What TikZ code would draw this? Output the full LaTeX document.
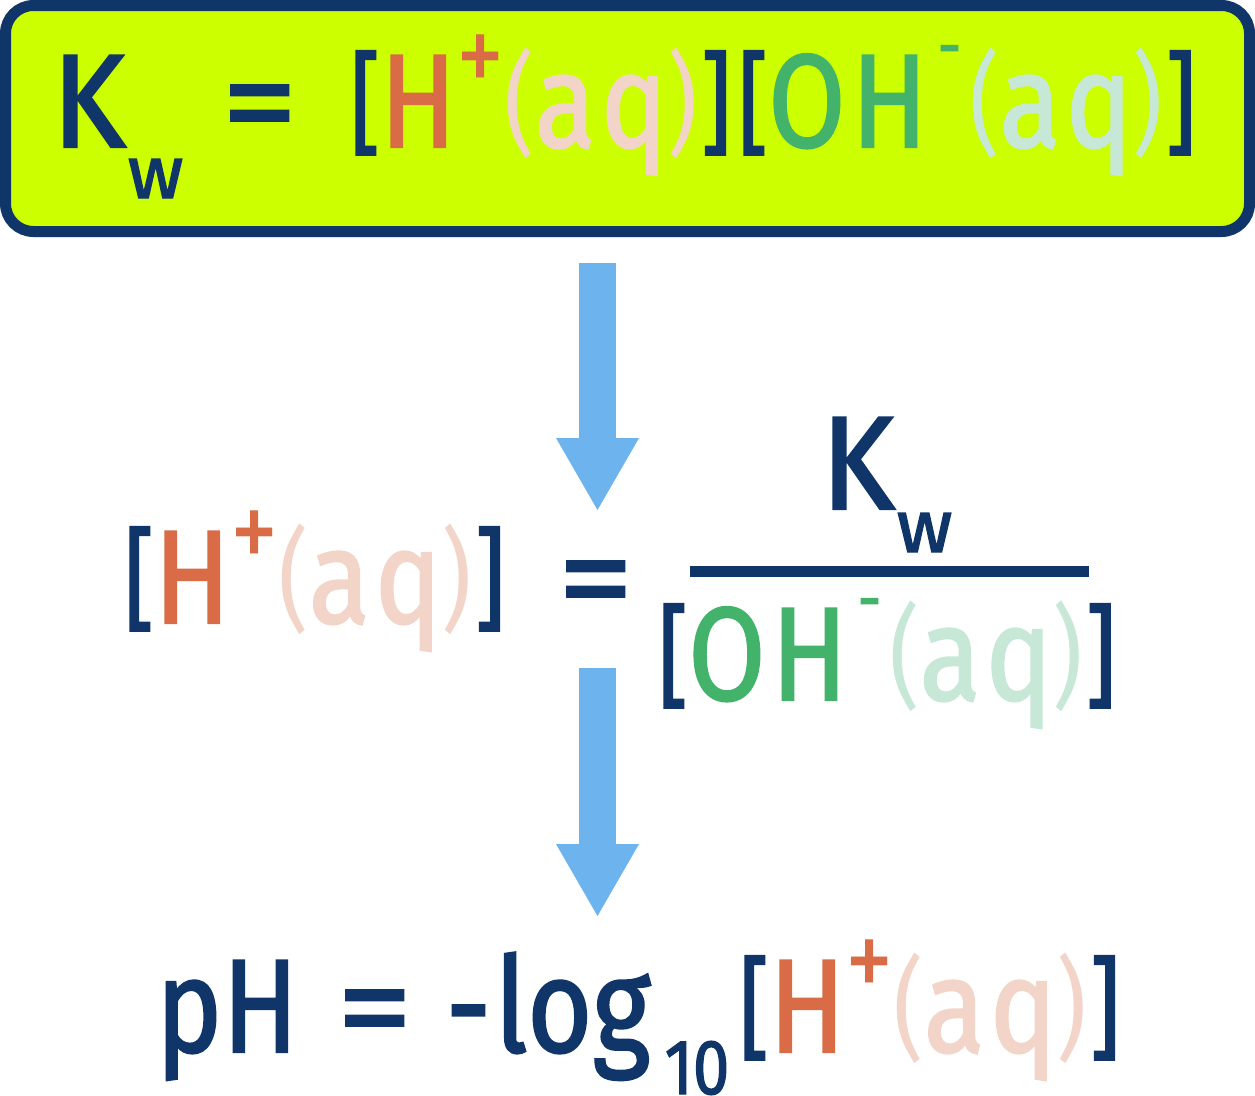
\documentclass[tikz,border=0pt]{standalone}
\usepackage{fontspec}
\setmainfont[FakeStretch=0.84,FakeBold=1.5]{Fira Sans}
\newfontfamily\plainfont[FakeStretch=0.84]{Fira Sans}
\usetikzlibrary{arrows.meta}

\definecolor{navy}{HTML}{0F3569}
\definecolor{boxlime}{HTML}{CCFF00}
\definecolor{horange}{HTML}{D96B47}
\definecolor{hpale}{HTML}{F3D4C9}
\definecolor{ogreen}{HTML}{43B26A}
\definecolor{opale}{HTML}{C7E8D7}
\definecolor{arrowblue}{HTML}{6DB3EE}

\newcommand{\eqfont}{\fontsize{133}{140}\selectfont}
\newcommand{\idxfont}{\fontsize{74}{74}\selectfont}
\newcommand{\sqfence}[1]{\raisebox{5pt}{\fontsize{112}{112}\selectfont #1}}
\newcommand{\parfence}[1]{\raisebox{5pt}{\plainfont\fontsize{112}{112}\selectfont #1}}
\newcommand{\ionplus}{\raisebox{53pt}{\plainfont\fontsize{115}{115}\selectfont\color{horange}+}}
\newcommand{\ionminus}{\raisebox{77pt}{\fontsize{70}{70}\selectfont\color{ogreen}-}}
\newcommand{\aqstate}{\parfence{(}a\hspace{5pt}q\parfence{)}\hspace{3pt}}
\newcommand{\hconc}{\sqfence{[}{\color{horange}H}\ionplus{\color{hpale}\aqstate}\sqfence{]}}
\newcommand{\ohconc}{\sqfence{[}{\color{ogreen}O\hspace{6pt}H}\hspace{10pt}\ionminus\hspace{8pt}{\color{opale}\aqstate}\sqfence{]}}
\newcommand{\kwidx}[1]{\scalebox{1.12}[1]{K}\hspace{2pt}\raisebox{-#1}{\idxfont\scalebox{1.25}[1]{w}}}
\newcommand{\wideeq}{\scalebox{1.35}[1]{=}}

\begin{document}
\begin{tikzpicture}[x=1pt,y=-1pt,
    formula/.style={anchor=base west,inner sep=0pt,outer sep=0pt,text=navy,font=\eqfont},
    eqbox/.style={draw=navy,fill=boxlime,line width=11pt,rounded corners=28pt,
      minimum width=1244pt,minimum height=226pt,inner sep=0pt},
    blockarrow/.style={arrowblue,line width=37pt,
      -{Triangle[length=72pt,width=83pt,line width=0pt]}}]
  \useasboundingbox (0,0) rectangle (1255,1095);

  % top box
  \node[eqbox] (kwbox) at (627.5,118.5) {};
  \node[formula] (kwtop) at (52,147) {\kwidx{51pt}};
  \node[formula] (eqtop) at (222,147) {\wideeq};
  \node[formula] (htop) at (350,147) {\hconc};
  \node[formula] (ohtop) at (738,147) {\ohconc};

  % arrows
  \coordinate (arrowatop) at (597.5,263);
  \coordinate (arrowatip) at (597.5,510);
  \coordinate (arrowbtop) at (597.5,668);
  \coordinate (arrowbtip) at (597.5,916);
  \draw[blockarrow] (arrowatop) -- (arrowatip);
  \draw[blockarrow] (arrowbtop) -- (arrowbtip);

  % rearranged
  \node[formula] (hmid) at (124,623) {\hconc};
  \node[formula] (eqmid) at (558,623) {\wideeq};
  \node[formula] (kwnum) at (821,509) {\kwidx{43pt}};
  \node[formula] (ohden) at (658,700) {\ohconc};
  \coordinate (fracleft) at (690,571.5);
  \coordinate (fracright) at (1089,571.5);
  \draw[navy,line width=11pt] (fracleft) -- (fracright);

  % pH
  \node[formula] (phbot) at (156,1052) {pH};
  \node[formula] (eqbot) at (337,1052) {\wideeq};
  \node[formula] (logbot) at (446,1052) {-\hspace{4pt}log\hspace{14pt}\raisebox{-42pt}{\fontsize{78}{78}\selectfont 10}};
  \node[formula] (hbot) at (739,1052) {\hconc};
\end{tikzpicture}
\end{document}
